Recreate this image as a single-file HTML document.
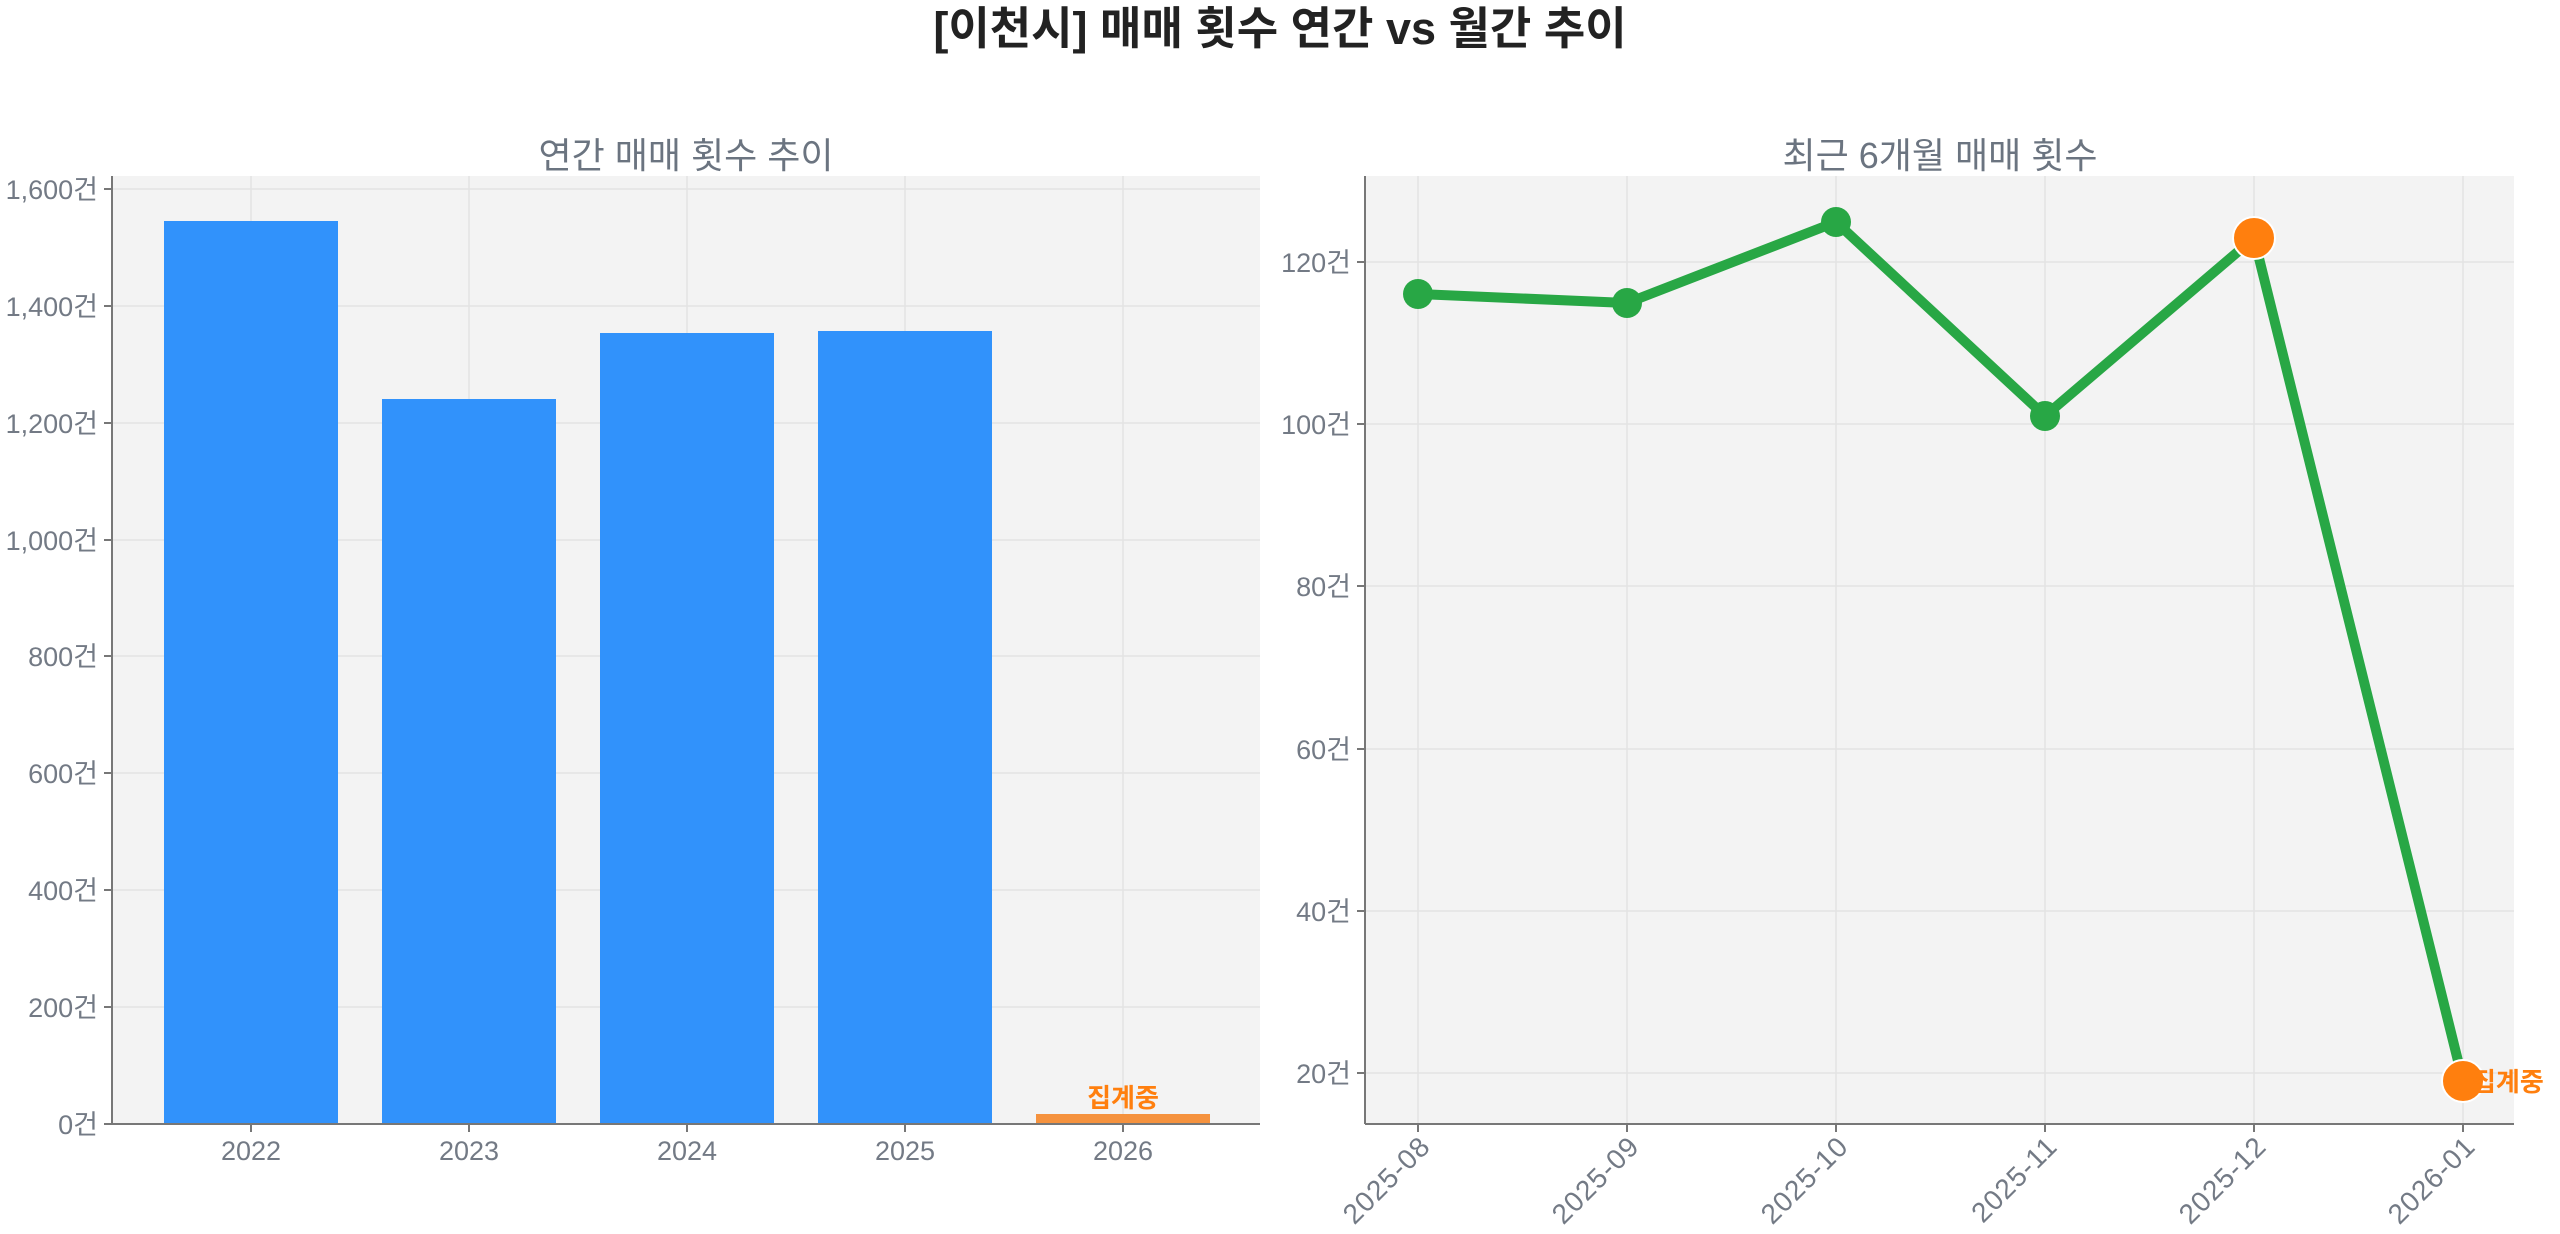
<!DOCTYPE html>
<html><head><meta charset="utf-8"><style>
html,body{margin:0;padding:0;background:#fff;}
svg{display:block;font-family:"Liberation Sans","Noto Sans CJK KR",sans-serif;}
.t{fill:#737a85;font-size:27px;}
</style></head><body>
<svg width="2560" height="1234" viewBox="0 0 2560 1234">
<text x="1280" y="44" text-anchor="middle" font-size="45" font-weight="bold" fill="#222">[이천시] 매매 횟수 연간 vs 월간 추이</text>
<text x="686" y="168" text-anchor="middle" font-size="36" fill="#6b7480">연간 매매 횟수 추이</text>
<text x="1940" y="168" text-anchor="middle" font-size="36" fill="#6b7480">최근 6개월 매매 횟수</text>

<!-- Left chart -->
<rect x="112" y="176" width="1148" height="948" fill="#f3f3f3"/>
<g stroke="#e3e3e3" stroke-width="1.5">
<line x1="112" x2="1260" y1="1007" y2="1007"/><line x1="112" x2="1260" y1="890" y2="890"/>
<line x1="112" x2="1260" y1="773" y2="773"/><line x1="112" x2="1260" y1="656" y2="656"/>
<line x1="112" x2="1260" y1="540" y2="540"/><line x1="112" x2="1260" y1="423" y2="423"/>
<line x1="112" x2="1260" y1="306" y2="306"/><line x1="112" x2="1260" y1="189" y2="189"/>
<line x1="251" x2="251" y1="176" y2="1124"/><line x1="469" x2="469" y1="176" y2="1124"/>
<line x1="687" x2="687" y1="176" y2="1124"/><line x1="905" x2="905" y1="176" y2="1124"/>
<line x1="1123" x2="1123" y1="176" y2="1124"/>
</g>
<g fill="#3192fb">
<rect x="164" y="221" width="174" height="903"/>
<rect x="382" y="399" width="174" height="725"/>
<rect x="600" y="333" width="174" height="791"/>
<rect x="818" y="331" width="174" height="793"/>
</g>
<rect x="1036" y="1114" width="174" height="10" fill="#f5923e"/>
<text x="1123" y="1107" text-anchor="middle" font-size="26" font-weight="bold" fill="#ff7f0e">집계중</text>
<g stroke="#777" stroke-width="2">
<line x1="112" x2="112" y1="176" y2="1124"/><line x1="112" x2="1260" y1="1124" y2="1124"/>
<line x1="104" x2="112" y1="1124" y2="1124"/><line x1="104" x2="112" y1="1007" y2="1007"/>
<line x1="104" x2="112" y1="890" y2="890"/><line x1="104" x2="112" y1="773" y2="773"/>
<line x1="104" x2="112" y1="656" y2="656"/><line x1="104" x2="112" y1="540" y2="540"/>
<line x1="104" x2="112" y1="423" y2="423"/><line x1="104" x2="112" y1="306" y2="306"/>
<line x1="104" x2="112" y1="189" y2="189"/>
<line x1="251" x2="251" y1="1124" y2="1132"/><line x1="469" x2="469" y1="1124" y2="1132"/>
<line x1="687" x2="687" y1="1124" y2="1132"/><line x1="905" x2="905" y1="1124" y2="1132"/>
<line x1="1123" x2="1123" y1="1124" y2="1132"/>
</g>
<g class="t" text-anchor="end">
<text x="98" y="1134">0건</text><text x="98" y="1017">200건</text><text x="98" y="900">400건</text>
<text x="98" y="783">600건</text><text x="98" y="666">800건</text><text x="98" y="550">1,000건</text>
<text x="98" y="433">1,200건</text><text x="98" y="316">1,400건</text><text x="98" y="199">1,600건</text>
</g>
<g class="t" text-anchor="middle">
<text x="251" y="1160">2022</text><text x="469" y="1160">2023</text><text x="687" y="1160">2024</text>
<text x="905" y="1160">2025</text><text x="1123" y="1160">2026</text>
</g>

<!-- Right chart -->
<rect x="1365" y="176" width="1149" height="948" fill="#f3f3f3"/>
<g stroke="#e3e3e3" stroke-width="1.5">
<line x1="1365" x2="2514" y1="262" y2="262"/><line x1="1365" x2="2514" y1="424" y2="424"/>
<line x1="1365" x2="2514" y1="586" y2="586"/><line x1="1365" x2="2514" y1="749" y2="749"/>
<line x1="1365" x2="2514" y1="911" y2="911"/><line x1="1365" x2="2514" y1="1073" y2="1073"/>
<line x1="1418" x2="1418" y1="176" y2="1124"/><line x1="1627" x2="1627" y1="176" y2="1124"/>
<line x1="1836" x2="1836" y1="176" y2="1124"/><line x1="2045" x2="2045" y1="176" y2="1124"/>
<line x1="2254" x2="2254" y1="176" y2="1124"/><line x1="2463" x2="2463" y1="176" y2="1124"/>
</g>
<polyline points="1418,294 1627,303 1836,222 2045,416 2254,238 2463,1081" fill="none" stroke="#28a745" stroke-width="10" stroke-linejoin="round"/>
<g fill="#28a745">
<circle cx="1418" cy="294" r="15"/><circle cx="1627" cy="303" r="15"/>
<circle cx="1836" cy="222" r="15"/><circle cx="2045" cy="416" r="15"/>
</g>
<circle cx="2254" cy="238" r="21" fill="#ff7f0e" stroke="#fff" stroke-width="2"/>
<circle cx="2463" cy="1081" r="21" fill="#ff7f0e" stroke="#fff" stroke-width="2"/>
<text x="2472" y="1091" font-size="26" font-weight="bold" fill="#ff7f0e">집계중</text>
<g stroke="#777" stroke-width="2">
<line x1="1365" x2="1365" y1="176" y2="1124"/><line x1="1365" x2="2514" y1="1124" y2="1124"/>
<line x1="1357" x2="1365" y1="262" y2="262"/><line x1="1357" x2="1365" y1="424" y2="424"/>
<line x1="1357" x2="1365" y1="586" y2="586"/><line x1="1357" x2="1365" y1="749" y2="749"/>
<line x1="1357" x2="1365" y1="911" y2="911"/><line x1="1357" x2="1365" y1="1073" y2="1073"/>
<line x1="1418" x2="1418" y1="1124" y2="1132"/><line x1="1627" x2="1627" y1="1124" y2="1132"/>
<line x1="1836" x2="1836" y1="1124" y2="1132"/><line x1="2045" x2="2045" y1="1124" y2="1132"/>
<line x1="2254" x2="2254" y1="1124" y2="1132"/><line x1="2463" x2="2463" y1="1124" y2="1132"/>
</g>
<g class="t" text-anchor="end">
<text x="1351" y="272">120건</text><text x="1351" y="434">100건</text><text x="1351" y="596">80건</text>
<text x="1351" y="759">60건</text><text x="1351" y="921">40건</text><text x="1351" y="1083">20건</text>
</g>
<g class="t" text-anchor="end" style="font-size:28px;letter-spacing:1px">
<text transform="translate(1432,1148) rotate(-45)">2025-08</text>
<text transform="translate(1641,1148) rotate(-45)">2025-09</text>
<text transform="translate(1850,1148) rotate(-45)">2025-10</text>
<text transform="translate(2059,1148) rotate(-45)">2025-11</text>
<text transform="translate(2268,1148) rotate(-45)">2025-12</text>
<text transform="translate(2477,1148) rotate(-45)">2026-01</text>
</g>
</svg>
</body></html>
